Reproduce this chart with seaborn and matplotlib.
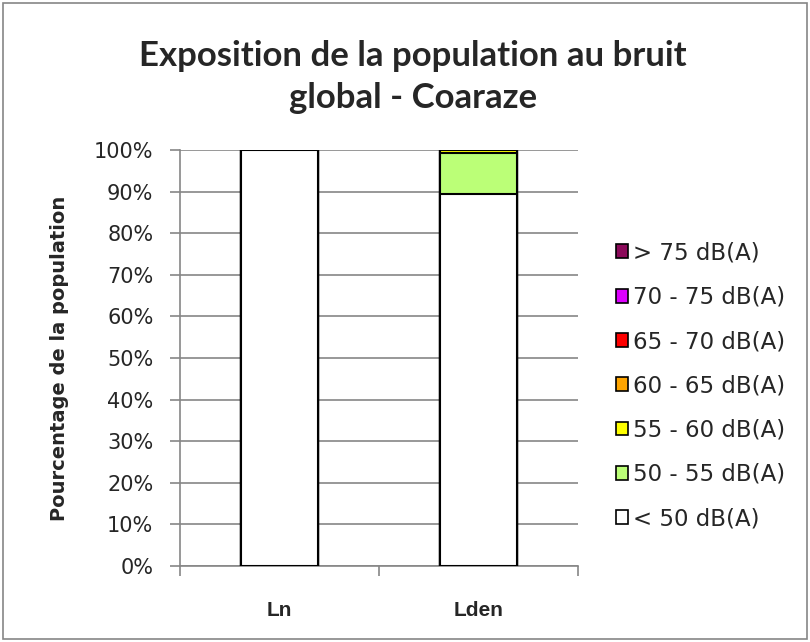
import matplotlib
matplotlib.use("Agg")
import matplotlib.pyplot as plt
from matplotlib.patches import Patch, Rectangle
import seaborn as sns
import numpy as np
import pandas as pd

sns.set_style("white")
plt.rcParams['font.family'] = ['DejaVu Sans']

# data
categories = ["Ln", "Lden"]
classes = ["< 50 dB(A)", "50 - 55 dB(A)", "55 - 60 dB(A)", "60 - 65 dB(A)",
           "65 - 70 dB(A)", "70 - 75 dB(A)", "> 75 dB(A)"]
below_50 = [100.0, 89.4]
db_50_55 = [0.0, 9.8]
db_55_60 = [0.0, 0.8]
db_60_65 = [0.0, 0.0]
db_65_70 = [0.0, 0.0]
db_70_75 = [0.0, 0.0]
above_75 = [0.0, 0.0]
colors = ["#FFFFFF", "#BBFF77", "#FFFF00", "#FFA500", "#FF0000", "#DD00FF", "#8B0A5A"]

series = [below_50, db_50_55, db_55_60, db_60_65, db_65_70, db_70_75, above_75]
df = pd.DataFrame({"cat": categories})
cum = np.cumsum(np.array(series), axis=0)

fig = plt.figure(figsize=(8.1, 6.42), dpi=100)
ax = fig.add_axes([0.222, 0.1184, 0.4916, 0.648])

# cumulative bars drawn from the top class down so lower ones overlay
for i in range(len(classes) - 1, -1, -1):
    df["val"] = cum[i]
    sns.barplot(data=df, x="cat", y="val", color=colors[i], width=0.39,
                edgecolor="black", linewidth=1.5, saturation=1, ax=ax, zorder=3)

ax.set_ylim(0, 100)
ax.set_xlim(-0.5, 1.5)
ax.set_yticks(np.arange(0, 101, 10))
ax.set_yticklabels([f"{v}%" for v in range(0, 101, 10)], fontsize=15)
ax.yaxis.grid(True, color="#868686", linewidth=1.2)
ax.set_axisbelow(True)
for s in ["top", "right"]:
    ax.spines[s].set_visible(False)
for s in ["left", "bottom"]:
    ax.spines[s].set_color("#868686")
    ax.spines[s].set_linewidth(1.2)
ax.tick_params(axis="y", length=7, color="#868686", width=1.2, pad=12, left=True)
ax.set_xticks([0, 1])
ax.set_xticklabels(categories, fontsize=15, fontweight="bold",
                   family=["Liberation Sans", "DejaVu Sans"])
ax.set_xticks([-0.5, 0.5, 1.5], minor=True)
ax.tick_params(axis="x", which="major", length=0, pad=25)
ax.tick_params(axis="x", which="minor", length=7, color="#868686", width=1.2, bottom=True)
ax.set_xlabel("")
ax.set_ylabel("Pourcentage de la population", fontsize=14, fontweight="bold", labelpad=18)

handles = [Patch(facecolor=colors[i], edgecolor="black", linewidth=1.2, label=classes[i])
           for i in range(len(classes) - 1, -1, -1)]
ax.legend(handles=handles, loc="center left", bbox_to_anchor=(1.095, 0.433), frameon=False,
          fontsize=16.5, handlelength=0.55, handleheight=0.55, handletextpad=0.2,
          labelspacing=0.93, borderaxespad=0, borderpad=0)

fig.text(0.51, 0.88, "Exposition de la population au bruit\nglobal - Coaraze",
         ha="center", va="center", fontsize=25, fontweight="bold",
         family=["Lato", "DejaVu Sans"], linespacing=1.4)

fig.patches.append(Rectangle((0.004, 0.004), 0.992, 0.992, transform=fig.transFigure,
                             fill=False, edgecolor="#868686", linewidth=1.2))

fig.savefig("out.png", dpi=100)
